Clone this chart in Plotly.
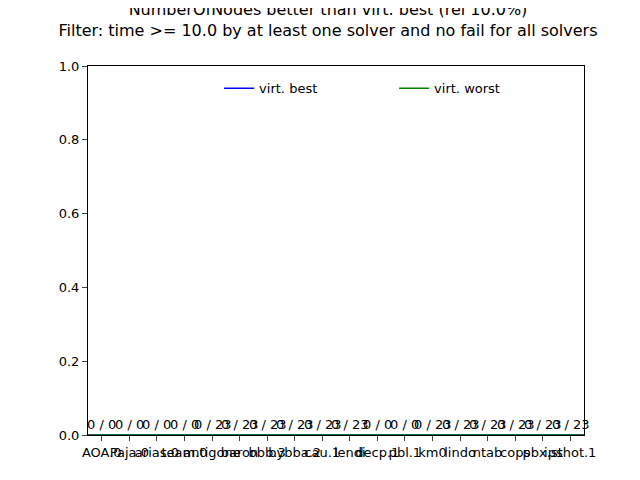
import plotly.graph_objects as go

# categories (labels overlap in the original, best guess)
solvers = ["AOA.0", "Paja.0", "arias.0", "team.0", "antigone", "baron", "bbb.3", "bybba.2",
           "cau.1", "lendi", "decp.1", "pbl.1", "km0", "lindo", "ntab", "cops", "pbx.st", "ipshot.1"]
better = [0] * 18
total = [0, 0, 0, 0, 23, 23, 23, 23, 23, 23, 0, 0, 23, 23, 23, 23, 23, 23]
virt_best = [0] * 18
virt_worst = [0] * 18

x = list(range(len(solvers)))
labels = [f"{b} / {t}" for b, t in zip(better, total)]

fig = go.Figure()
fig.add_trace(go.Bar(x=x, y=better, marker_color="#1f77b4", showlegend=False))
fig.add_trace(go.Scatter(x=[-0.5] + x + [len(x) - 0.5], y=[0] + virt_best + [0],
                         mode="lines", name="virt. best", line=dict(color="blue", width=1.5)))
fig.add_trace(go.Scatter(x=[-0.5] + x + [len(x) - 0.5], y=[0] + virt_worst + [0],
                         mode="lines", name="virt. worst", line=dict(color="green", width=1.5)))

for xi, yi, lab in zip(x, better, labels):
    fig.add_annotation(x=xi, y=yi, text=lab, showarrow=False, yanchor="bottom",
                       yshift=1, font=dict(size=13, color="black"))

fig.update_layout(
    width=640, height=480,
    title=dict(text="NumberOfNodes better than virt. best (rel 10.0%)<br>Filter: time >= 10.0 by at least one solver and no fail for all solvers",
               x=0.5, xanchor="center", y=0.985, yanchor="top", font=dict(size=16, color="black")),
    font=dict(family="DejaVu Sans", size=13, color="black"),
    plot_bgcolor="white", paper_bgcolor="white",
    margin=dict(l=80, r=64, t=58, b=53),
    legend=dict(orientation="h", x=0.97, xanchor="right", y=0.98, yanchor="top",
                bgcolor="rgba(0,0,0,0)", font=dict(size=13), entrywidth=130),
    xaxis=dict(tickmode="array", tickvals=x, ticktext=solvers, range=[-0.5, len(x) - 0.5],
               showline=True, linecolor="black", mirror=True, ticks="outside",
               showgrid=False, zeroline=False, tickangle=0),
    yaxis=dict(range=[0, 1], dtick=0.2, tickformat=".1f", showline=True, linecolor="black",
               mirror=True, ticks="outside", showgrid=False, zeroline=False),
)
fig.write_html("out.html")
